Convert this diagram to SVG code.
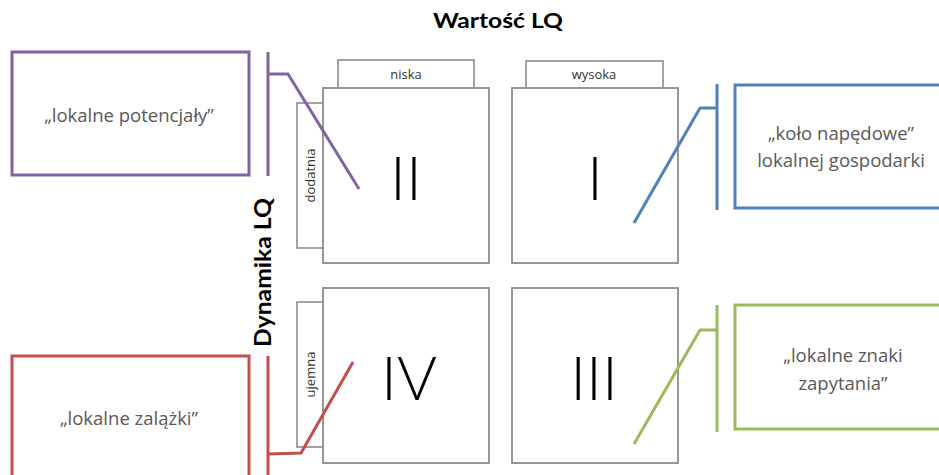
<svg xmlns="http://www.w3.org/2000/svg" width="939" height="475" viewBox="0 0 939 475">
<style>
.q{fill:#fff;stroke:#8c8c8c;stroke-width:1.8}
.tab{fill:#fff;stroke:#8c8c8c;stroke-width:1.6}
.tl{font-family:"Open Sans","Liberation Sans",sans-serif;font-size:13px;fill:#333;text-anchor:middle}
.num{font-family:Lato,"Liberation Sans",sans-serif;font-weight:300;font-size:61px;fill:#000;text-anchor:middle}
.ax{font-family:Lato,"Liberation Sans",sans-serif;font-weight:bold;fill:#000;text-anchor:middle}
.cb{fill:#fff;stroke-width:3}
.ct{font-family:"Open Sans","Liberation Sans",sans-serif;font-size:18.5px;fill:#595959;text-anchor:middle}
.ln{fill:none;stroke-width:3;stroke-linejoin:miter}
.purple{stroke:#8064A2}.blue{stroke:#4F81BD}.red{stroke:#C0504D}.green{stroke:#9BBB59}
</style>
<rect width="939" height="475" fill="#fff"/>
<g id="title"><text class="ax" x="498" y="28" font-size="21" textLength="130" lengthAdjust="spacingAndGlyphs">Wartość LQ</text></g>
<g id="axis-y"><text class="ax" transform="translate(271,272.5) rotate(-90)" font-size="23" textLength="149" lengthAdjust="spacingAndGlyphs">Dynamika LQ</text></g>

<g id="quadrant-II">
<rect class="tab" x="338" y="60" width="136" height="40"/>
<text class="tl" x="406" y="79">niska</text>
<rect class="tab" x="297" y="103" width="40" height="145"/>
<text class="tl" transform="translate(315,175.5) rotate(-90)">dodatnia</text>
<rect class="q" x="323" y="88" width="166" height="175"/>
<text class="num" x="406" y="200">II</text>
</g>
<g id="quadrant-I">
<rect class="tab" x="526" y="61" width="137" height="40"/>
<text class="tl" x="594" y="79">wysoka</text>
<rect class="q" x="512" y="88" width="166" height="175"/>
<text class="num" x="595" y="200">I</text>
</g>
<g id="quadrant-IV">
<rect class="tab" x="297" y="302" width="40" height="145"/>
<text class="tl" transform="translate(315,374.5) rotate(-90)">ujemna</text>
<rect class="q" x="323" y="288" width="166" height="175"/>
<text class="num" x="409" y="400">IV</text>
</g>
<g id="quadrant-III">
<rect class="q" x="512" y="288" width="166" height="175"/>
<text class="num" x="594" y="400">III</text>
</g>

<g id="callout-potencjaly">
<rect class="cb purple" x="12" y="52" width="237" height="123"/>
<text class="ct" x="129" y="122">„lokalne potencjały”</text>
</g>
<g id="callout-kolo">
<rect class="cb blue" x="735" y="85" width="215" height="123"/>
<text class="ct" x="841" y="140">„koło napędowe”</text>
<text class="ct" x="841" y="167">lokalnej gospodarki</text>
</g>
<g id="callout-znaki">
<rect class="cb green" x="735" y="305" width="215" height="124"/>
<text class="ct" x="843" y="362">„lokalne znaki</text>
<text class="ct" x="843" y="390">zapytania”</text>
</g>
<g id="callout-zalazki">
<rect class="cb red" x="12" y="356" width="237" height="130"/>
<text class="ct" x="129" y="425">„lokalne zalążki”</text>
</g>

<g id="connectors">
<path class="ln purple" d="M268,52V176M268,74H288L359,189"/>
<path class="ln blue" d="M717,84V210M717,108H700L634,223"/>
<path class="ln green" d="M717,305V432M717,330H700L634,444"/>
<path class="ln red" d="M268,356V480M268,454L301,453L353,362"/>
</g>
</svg>
